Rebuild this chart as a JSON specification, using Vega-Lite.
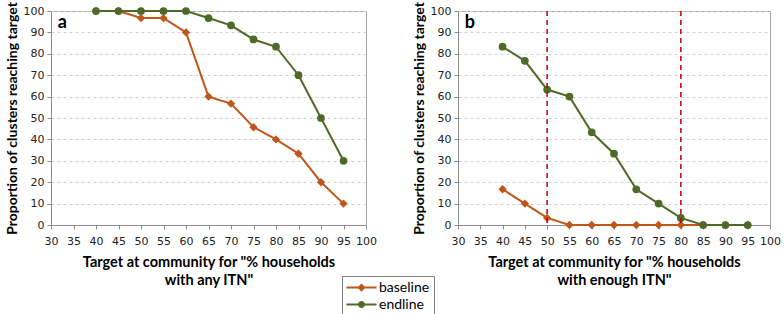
{
  "$schema": "https://vega.github.io/schema/vega-lite/v6.json",
  "background": "white",
  "padding": {"left": 4, "top": 1, "right": 10, "bottom": 2},
  "spacing": 92,
  "bounds": "flush",
  "datasets": {
    "pts": [
      {"panel": "a", "series": "baseline", "x": 40, "y": 100},
      {"panel": "a", "series": "baseline", "x": 45, "y": 100},
      {"panel": "a", "series": "baseline", "x": 50, "y": 96.7},
      {"panel": "a", "series": "baseline", "x": 55, "y": 96.7},
      {"panel": "a", "series": "baseline", "x": 60, "y": 90},
      {"panel": "a", "series": "baseline", "x": 65, "y": 60},
      {"panel": "a", "series": "baseline", "x": 70, "y": 56.7},
      {"panel": "a", "series": "baseline", "x": 75, "y": 45.7},
      {"panel": "a", "series": "baseline", "x": 80, "y": 40},
      {"panel": "a", "series": "baseline", "x": 85, "y": 33.3},
      {"panel": "a", "series": "baseline", "x": 90, "y": 20},
      {"panel": "a", "series": "baseline", "x": 95, "y": 10},
      {"panel": "a", "series": "endline", "x": 40, "y": 100},
      {"panel": "a", "series": "endline", "x": 45, "y": 100},
      {"panel": "a", "series": "endline", "x": 50, "y": 100},
      {"panel": "a", "series": "endline", "x": 55, "y": 100},
      {"panel": "a", "series": "endline", "x": 60, "y": 100},
      {"panel": "a", "series": "endline", "x": 65, "y": 96.7},
      {"panel": "a", "series": "endline", "x": 70, "y": 93.3},
      {"panel": "a", "series": "endline", "x": 75, "y": 86.7},
      {"panel": "a", "series": "endline", "x": 80, "y": 83.3},
      {"panel": "a", "series": "endline", "x": 85, "y": 70},
      {"panel": "a", "series": "endline", "x": 90, "y": 50},
      {"panel": "a", "series": "endline", "x": 95, "y": 30},
      {"panel": "b", "series": "baseline", "x": 40, "y": 16.7},
      {"panel": "b", "series": "baseline", "x": 45, "y": 10},
      {"panel": "b", "series": "baseline", "x": 50, "y": 3.3},
      {"panel": "b", "series": "baseline", "x": 55, "y": 0},
      {"panel": "b", "series": "baseline", "x": 60, "y": 0},
      {"panel": "b", "series": "baseline", "x": 65, "y": 0},
      {"panel": "b", "series": "baseline", "x": 70, "y": 0},
      {"panel": "b", "series": "baseline", "x": 75, "y": 0},
      {"panel": "b", "series": "baseline", "x": 80, "y": 0},
      {"panel": "b", "series": "baseline", "x": 85, "y": 0},
      {"panel": "b", "series": "baseline", "x": 90, "y": 0},
      {"panel": "b", "series": "baseline", "x": 95, "y": 0},
      {"panel": "b", "series": "endline", "x": 40, "y": 83.3},
      {"panel": "b", "series": "endline", "x": 45, "y": 76.7},
      {"panel": "b", "series": "endline", "x": 50, "y": 63.3},
      {"panel": "b", "series": "endline", "x": 55, "y": 60},
      {"panel": "b", "series": "endline", "x": 60, "y": 43.3},
      {"panel": "b", "series": "endline", "x": 65, "y": 33.3},
      {"panel": "b", "series": "endline", "x": 70, "y": 16.7},
      {"panel": "b", "series": "endline", "x": 75, "y": 10},
      {"panel": "b", "series": "endline", "x": 80, "y": 3.3},
      {"panel": "b", "series": "endline", "x": 85, "y": 0},
      {"panel": "b", "series": "endline", "x": 90, "y": 0},
      {"panel": "b", "series": "endline", "x": 95, "y": 0}
    ],
    "labels": [
      {"panel": "a", "label": "a", "x": 31.5, "y": 94.5},
      {"panel": "b", "label": "b", "x": 31.5, "y": 94.5}
    ],
    "rules": [{"x": 50}, {"x": 80}]
  },
  "config": {
    "view": {"stroke": "#a6a6a6", "strokeWidth": 1},
    "axis": {
      "labelFont": "DejaVu Sans",
      "labelFontSize": 11,
      "labelColor": "#222222",
      "labelOverlap": false,
      "titleFont": "Lato",
      "titleFontSize": 14.5,
      "titleFontWeight": "bold",
      "titleColor": "#000000",
      "domainColor": "#8c8c8c",
      "tickColor": "#8c8c8c",
      "tickSize": 4
    }
  },
  "hconcat": [
    {
      "width": 315,
      "height": 214,
      "data": {"name": "pts"},
      "encoding": {
        "x": {"field": "x", "type": "quantitative", "scale": {"domain": [30, 100], "nice": false},
          "axis": {"values": [30, 35, 40, 45, 50, 55, 60, 65, 70, 75, 80, 85, 90, 95, 100], "grid": false, "labelPadding": 6, "titlePadding": 9, "titleLineHeight": 18, "labelFlush": false,
            "title": ["Target at community for \"% households", "with any ITN\""]}},
        "y": {"field": "y", "type": "quantitative", "scale": {"domain": [0, 100], "nice": false},
          "axis": {"values": [0, 10, 20, 30, 40, 50, 60, 70, 80, 90, 100], "grid": true, "gridColor": "#d0d0d0", "gridDash": [3, 3], "labelPadding": 3, "titlePadding": 4, "titleFontSize": 14,
            "title": "Proportion of clusters reaching target"}}
      },
      "layer": [
        {
          "transform": [{"filter": "datum.panel == 'a' && datum.series == 'baseline'"}],
          "mark": {"type": "line", "color": "#C0561A", "strokeWidth": 2, "point": {"shape": "diamond", "filled": true, "size": 70, "color": "#C0561A", "opacity": 1}}
        },
        {
          "transform": [{"filter": "datum.panel == 'a' && datum.series == 'endline'"}],
          "mark": {"type": "line", "color": "#4F6A28", "strokeWidth": 2, "point": {"shape": "circle", "filled": true, "size": 60, "color": "#4F6A28", "opacity": 1}}
        },
        {
          "data": {"name": "labels"},
          "transform": [{"filter": "datum.panel == 'a'"}],
          "mark": {"type": "text", "font": "Lato", "fontWeight": "bold", "fontSize": 18, "align": "left", "baseline": "middle", "color": "#000000"},
          "encoding": {"text": {"field": "label"}}
        },
        {
          "transform": [{"filter": "datum.x > 1000"}],
          "mark": {"type": "point", "filled": true, "opacity": 1},
          "encoding": {
            "color": {
              "field": "series", "type": "nominal",
              "scale": {"domain": ["baseline", "endline"], "range": ["#C0561A", "#4F6A28"]},
              "legend": {
                "title": null, "orient": "none", "legendX": 291, "legendY": 265,
                "symbolSize": 225, "symbolOpacity": 1, "symbolStrokeWidth": 0, "symbolOffset": 8,
                "labelFont": "Lato", "labelFontSize": 14, "labelColor": "#000000",
                "strokeColor": "#7f7f7f", "padding": 4, "rowPadding": 2, "labelOffset": 10,
                "fillColor": "white"
              }
            },
            "shape": {
              "field": "series", "type": "nominal",
              "scale": {"domain": ["baseline", "endline"], "range": ["M-2,-0.13H2V0.13H-2ZM0,-0.55L0.55,0L0,0.55L-0.55,0Z", "M-2,-0.13H2V0.13H-2ZM0.47,0A0.47,0.47,0,1,1,-0.47,0A0.47,0.47,0,1,1,0.47,0Z"]}
            }
          }
        }
      ]
    },
    {
      "width": 312,
      "height": 214,
      "layer": [
        {
          "data": {"name": "pts"},
          "encoding": {
            "x": {"field": "x", "type": "quantitative", "scale": {"domain": [30, 100], "nice": false},
              "axis": {"values": [30, 35, 40, 45, 50, 55, 60, 65, 70, 75, 80, 85, 90, 95, 100], "grid": false, "labelPadding": 6, "titlePadding": 9, "titleLineHeight": 18, "labelFlush": false,
                "title": ["Target at community for \"% households", "with enough ITN\""]}},
            "y": {"field": "y", "type": "quantitative", "scale": {"domain": [0, 100], "nice": false},
              "axis": {"values": [0, 10, 20, 30, 40, 50, 60, 70, 80, 90, 100], "grid": true, "gridColor": "#d0d0d0", "gridDash": [3, 3], "labelPadding": 3, "titlePadding": 4, "titleFontSize": 14,
                "title": "Proportion of clusters reaching target"}}
          },
          "layer": [
            {
              "transform": [{"filter": "datum.panel == 'b' && datum.series == 'baseline'"}],
              "mark": {"type": "line", "color": "#C0561A", "strokeWidth": 2, "point": {"shape": "diamond", "filled": true, "size": 70, "color": "#C0561A", "opacity": 1}}
            },
            {
              "transform": [{"filter": "datum.panel == 'b' && datum.series == 'endline'"}],
              "mark": {"type": "line", "color": "#4F6A28", "strokeWidth": 2, "point": {"shape": "circle", "filled": true, "size": 60, "color": "#4F6A28", "opacity": 1}}
            },
            {
              "data": {"name": "labels"},
              "transform": [{"filter": "datum.panel == 'b'"}],
              "mark": {"type": "text", "font": "Lato", "fontWeight": "bold", "fontSize": 18, "align": "left", "baseline": "middle", "color": "#000000"},
              "encoding": {"text": {"field": "label"}}
            }
          ]
        },
        {
          "data": {"name": "rules"},
          "mark": {"type": "rule", "color": "#C00000", "strokeWidth": 1.5, "strokeDash": [5, 4]},
          "encoding": {
            "x": {"field": "x", "type": "quantitative", "scale": {"domain": [30, 100], "nice": false},
              "axis": {"values": [30, 35, 40, 45, 50, 55, 60, 65, 70, 75, 80, 85, 90, 95, 100], "grid": false, "labelPadding": 6, "titlePadding": 9, "titleLineHeight": 18, "labelFlush": false,
                "title": ["Target at community for \"% households", "with enough ITN\""]}}
          }
        }
      ]
    }
  ]
}
